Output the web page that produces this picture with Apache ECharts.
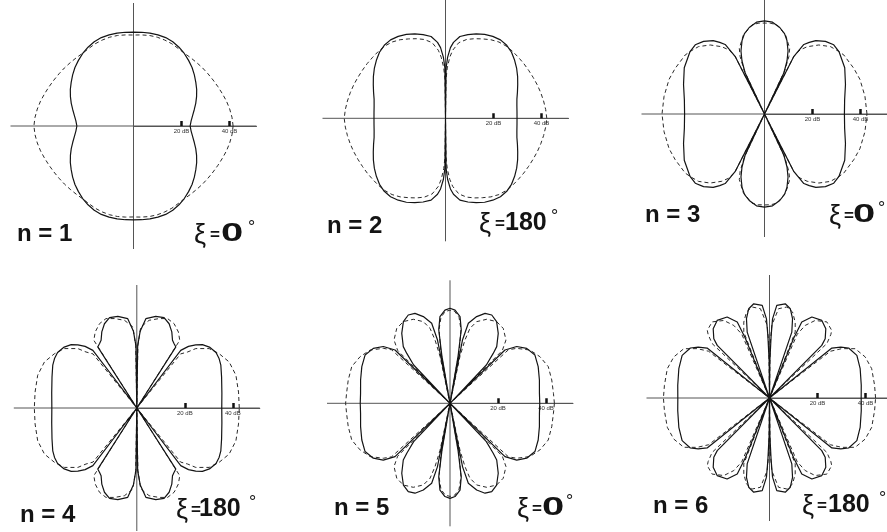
<!DOCTYPE html>
<html>
<head>
<meta charset="utf-8">
<script src="https://cdn.jsdelivr.net/npm/echarts@6/dist/echarts.min.js"></script>
<style>
  html, body { margin: 0; padding: 0; background: #fff; }
  #chart { width: 887px; height: 532px; }
</style>
</head>
<body>
<div id="chart"></div>
<script>
// Radiation patterns in dB, one quadrant each (angle in degrees from the
// horizontal axis, 0..90). Every pattern is symmetric about both axes.
// Solid = measured, dashed = computed.

// n = 1, xi = 0°
const ang1 = [0, 5, 10, 15, 20, 25, 30, 35, 40, 45, 50, 55, 60, 65, 70, 75, 80, 85, 90];
const solid1 = [23.6, 24.1, 25.0, 26.2, 27.6, 29.0, 30.4, 31.7, 33.1, 34.5, 35.7, 36.9, 37.9, 38.7, 39.2, 39.3, 39.3, 39.2, 39.1];
const dashed1 = [41.5, 41.2, 40.7, 40.1, 39.4, 38.8, 38.3, 37.9, 37.6, 37.3, 37.1, 37.0, 37.3, 37.8, 38.1, 38.3, 38.3, 38.1, 37.9];

// n = 2, xi = 180°
const ang2 = [0, 5, 10, 15, 20, 25, 30, 35, 40, 45, 50, 55, 60, 65, 70, 75, 80, 84, 86, 88, 89.3, 90];
const solid2 = [29.8, 29.9, 30.2, 30.8, 31.9, 33.2, 34.7, 36.2, 37.6, 38.9, 39.7, 39.9, 39.4, 38.6, 37.4, 36.1, 34.6, 31.8, 29.5, 25.5, 21, 0];
const dashed2 = [42.2, 41.9, 41.5, 41.1, 40.7, 40.3, 40.0, 39.8, 39.6, 39.5, 39.3, 38.8, 37.8, 36.5, 35.3, 34.0, 32.0, 28.5, 25.5, 21, 16, 0];

// n = 3, xi = 0°
const solidAng3 = [0, 10, 20, 30, 40, 45, 50, 55, 58, 60.5, 63, 64, 64.8, 67, 69.5, 73, 76, 80, 85, 90];
const solid3 = [33.3, 33.9, 35.9, 38.6, 40.5, 40.8, 39.5, 37.3, 35.2, 33.3, 27, 0, 19, 24, 28, 32, 34.5, 36.6, 38.4, 38.8];
const dashedAng3 = [0, 10, 20, 27, 36.6, 40, 45.6, 51.8, 57.6, 61, 63, 64, 65, 67, 69, 75, 82, 86, 90];
const dashed3 = [42.7, 42.5, 42.3, 41.8, 41.2, 40.5, 39.3, 36.6, 33.2, 30.5, 27, 0, 20, 26, 29.3, 34, 37.5, 37.9, 37.9];

// n = 4, xi = 180°
const solidAng4 = [0, 10, 20, 27, 31, 35, 40, 44, 47, 50, 52.7, 55, 57.4, 60, 62.2, 65.3, 69, 73.2, 78.3, 84.2, 87.5, 89.2, 90];
const solid4 = [35.4, 36, 37.6, 39.3, 40, 40.3, 39.5, 38, 36, 33.5, 30.2, 0, 30.2, 31, 31.9, 34.9, 37.6, 39.3, 39, 37.4, 32, 26, 0];
const dashedAng4 = [0, 8.9, 18.3, 26.5, 33.4, 39.4, 45.2, 47.8, 51, 54.5, 57.6, 61.3, 66.1, 71, 76, 82, 87.2, 89, 90];
const dashed4 = [42.7, 42.9, 43.5, 43, 41.1, 39, 34.9, 31.5, 29, 0, 33.4, 36.1, 38.4, 39.4, 38.4, 36.9, 33.8, 26, 0];

// n = 5, xi = 0°
const solidAng5 = [0, 6.4, 14.6, 22.6, 29.6, 35.6, 40.4, 44.1, 45, 46.5, 49.1, 50.5, 55.4, 60.3, 64.7, 68.7, 72.9, 77.1, 78.8, 79.8, 80.3, 81.3, 83.4, 86.9, 90];
const solid5 = [37.4, 37.5, 38.5, 39.8, 40.7, 39.3, 36.5, 31.9, 0, 22, 27.5, 30.6, 35.4, 39.2, 40.7, 40.2, 37.8, 34.2, 27, 0, 20, 31, 36.4, 38.9, 39.6];
const dashedAng5 = [0, 5.5, 12.9, 20.5, 27.4, 33.7, 39.5, 42.5, 44.3, 45.3, 48.5, 54.6, 60.3, 66.4, 71.9, 75.1, 76.7, 78, 79.2, 80, 81.5, 84, 87, 90];
const dashed5 = [43.5, 43.3, 43.5, 43.7, 42.2, 40, 36, 33, 0, 31, 35.2, 38.3, 39.2, 38.2, 35.8, 32.3, 27.1, 20, 0, 22, 31, 36, 38.3, 38.8];

// n = 6, xi = 180°
const solidAng6 = [0, 7.9, 17.9, 26, 32.3, 35.5, 38.7, 41.5, 45.2, 46.8, 50.9, 56, 62.4, 67, 68, 70, 71.3, 73.8, 76.9, 80.5, 85.5, 87.8, 88.5, 89.5, 90];
const solid6 = [38.2, 38.6, 39.7, 40.5, 39, 36.5, 33.3, 0, 30.9, 33.9, 37.2, 39, 38.1, 34.4, 27, 0, 29, 34.4, 38.2, 39.8, 38.7, 33, 26, 15, 0];
const dashedAng6 = [0, 6.9, 16, 23.2, 29.9, 34.3, 37.5, 40, 43.5, 46, 47.4, 53, 59.5, 63.8, 66.5, 67.8, 68.7, 71.3, 75, 79.2, 84.2, 88.2, 89.3, 90];
const dashed6 = [44.2, 44.1, 44.3, 43.4, 41.2, 36.5, 32, 0, 33, 36.8, 38.3, 39.7, 37.5, 33.7, 29, 0, 29.5, 33.4, 37.1, 38.6, 37.4, 30.3, 22, 0];

// Panel captions and radius tick marks
const nLabels = ['n = 1', 'n = 2', 'n = 3', 'n = 4', 'n = 5', 'n = 6'];
const xiValues = ['0', '180', '0', '180', '0', '180'];
const radiusTicks = [20, 40];

const panels = [
  { solidAng: ang1, solid: solid1, dashedAng: ang1, dashed: dashed1 },
  { solidAng: ang2, solid: solid2, dashedAng: ang2, dashed: dashed2 },
  { solidAng: solidAng3, solid: solid3, dashedAng: dashedAng3, dashed: dashed3 },
  { solidAng: solidAng4, solid: solid4, dashedAng: dashedAng4, dashed: dashed4 },
  { solidAng: solidAng5, solid: solid5, dashedAng: dashedAng5, dashed: dashed5 },
  { solidAng: solidAng6, solid: solid6, dashedAng: dashedAng6, dashed: dashed6 }
];

// Layout: polar centres (px), axis radius (px) and the dB value at that radius
const centers = [[133.5, 126], [445.5, 118.3], [764.5, 114], [136.8, 408], [450, 403.3], [769.5, 398]];
const R = 123;
const RMAX = 51.25;

// Caption layout: n label, then xi / "=" / value / degree sign pieces
const capN = [[17, 234], [327, 226], [645, 215], [20, 515], [334, 508], [653, 506]];
const capXi = [
  { xi: 194, eq: 210, v: 221, deg: 248, y: 234, wide: true },
  { xi: 479, eq: 495, v: 505, deg: 551, y: 223, wide: false },
  { xi: 829, eq: 844, v: 853, deg: 878, y: 215, wide: true },
  { xi: 176, eq: 191, v: 199, deg: 249, y: 509, wide: false },
  { xi: 517, eq: 532, v: 542, deg: 566, y: 508, wide: true },
  { xi: 802, eq: 817, v: 828, deg: 879, y: 505, wide: false }
];

// Unfold one quadrant into a full turn: [r, angle] pairs for the polar line
function fullTurn(ang, db) {
  const pts = [];
  const n = ang.length;
  for (let i = 0; i < n; i++) pts.push([db[i], ang[i]]);
  for (let i = n - 1; i >= 0; i--) pts.push([db[i], 180 - ang[i]]);
  for (let i = 0; i < n; i++) pts.push([db[i], 180 + ang[i]]);
  for (let i = n - 1; i >= 0; i--) pts.push([db[i], 360 - ang[i]]);
  return pts;
}

const FONT = "'Liberation Sans', Arial, sans-serif";
const INK = '#141414';

const polar = centers.map(c => ({ center: c, radius: R }));

const angleAxis = centers.map((c, i) => ({
  polarIndex: i,
  type: 'value',
  min: 0,
  max: 360,
  interval: 90,
  startAngle: 0,
  clockwise: false,
  axisLine: { show: false },
  axisTick: { show: false },
  axisLabel: { show: false },
  splitLine: { show: true, lineStyle: { color: '#555', width: 1 } }
}));

const radiusAxis = centers.map((c, i) => ({
  polarIndex: i,
  type: 'value',
  min: 0,
  max: RMAX,
  axisLine: { show: true, lineStyle: { color: '#555', width: 1 } },
  axisTick: { show: true, customValues: radiusTicks, length: 5, lineStyle: { color: '#111', width: 2.5 } },
  axisLabel: {
    show: true,
    customValues: radiusTicks,
    formatter: '{value} dB',
    fontSize: 6,
    color: '#333',
    margin: -8,
    fontFamily: FONT
  },
  splitLine: { show: false }
}));

const series = [];
panels.forEach((p, i) => {
  series.push({
    type: 'line',
    coordinateSystem: 'polar',
    polarIndex: i,
    showSymbol: false,
    silent: true,
    data: fullTurn(p.dashedAng, p.dashed),
    lineStyle: { color: '#2a2a2a', width: 1, type: [4, 3] }
  });
  series.push({
    type: 'line',
    coordinateSystem: 'polar',
    polarIndex: i,
    showSymbol: false,
    silent: true,
    data: fullTurn(p.solidAng, p.solid),
    lineStyle: { color: INK, width: 1.2 }
  });
});

const graphic = [];
nLabels.forEach((t, i) => {
  graphic.push({
    type: 'text', x: capN[i][0], y: capN[i][1], silent: true,
    style: { text: t, font: 'bold 24px ' + FONT, fill: INK, textAlign: 'left', textVerticalAlign: 'middle' }
  });
  const c = capXi[i];
  graphic.push({
    type: 'text', x: c.xi, y: c.y + 2, silent: true,
    style: { text: 'ξ', font: '27px ' + FONT, fill: INK, textAlign: 'left', textVerticalAlign: 'middle' }
  });
  graphic.push({
    type: 'text', x: c.eq, y: c.y + 1, silent: true,
    style: { text: '=', font: 'bold 17px ' + FONT, fill: INK, textAlign: 'left', textVerticalAlign: 'middle' }
  });
  graphic.push({
    type: 'text', x: c.v, y: c.y, silent: true, scaleX: c.wide ? 1.6 : 1,
    originX: 0, originY: 0,
    style: { text: xiValues[i], font: 'bold 25px ' + FONT, fill: INK, textAlign: 'left', textVerticalAlign: 'middle' }
  });
  graphic.push({
    type: 'text', x: c.deg, y: c.y - 6, silent: true,
    style: { text: '°', font: '18px ' + FONT, fill: INK, textAlign: 'left', textVerticalAlign: 'middle' }
  });
});

const chart = echarts.init(document.getElementById('chart'), null, { renderer: 'canvas' });
chart.setOption({
  backgroundColor: '#ffffff',
  animation: false,
  polar: polar,
  angleAxis: angleAxis,
  radiusAxis: radiusAxis,
  series: series,
  graphic: graphic
});
</script>
</body>
</html>
